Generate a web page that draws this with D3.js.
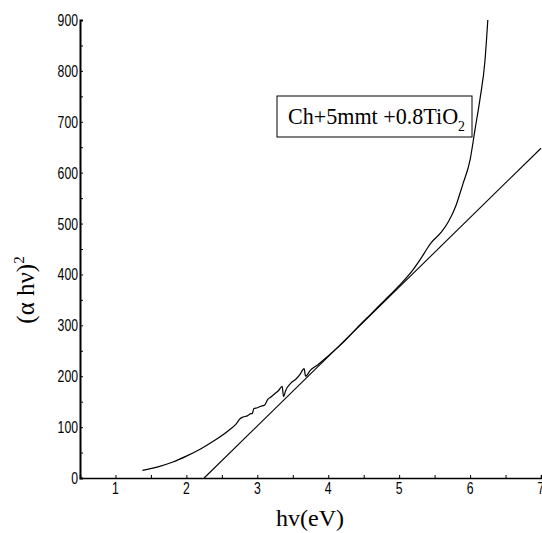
<!DOCTYPE html>
<html>
<head>
<meta charset="utf-8">
<script src="https://cdn.jsdelivr.net/npm/d3@7"></script>
<style>
  body { margin: 0; background: #fff; }
  svg { display: block; }
</style>
</head>
<body>
<div id="chart"></div>
<script>
// photon energy (eV) and (alpha h nu)^2
const energy = [1.38, 1.6, 1.8, 2.0, 2.2, 2.4, 2.6, 2.7, 2.76, 2.8, 2.86, 2.9, 2.93, 2.95, 3.0, 3.05, 3.1, 3.15, 3.2, 3.25, 3.3, 3.35, 3.37, 3.4, 3.47, 3.55, 3.6, 3.66, 3.68, 3.75, 3.85, 4.0, 4.2, 4.4, 4.6, 4.8, 5.0, 5.2, 5.3, 5.4, 5.45, 5.6, 5.7, 5.8, 5.85, 5.9, 6.0, 6.07, 6.14, 6.21, 6.25];
const absorb = [15, 22, 31, 43, 57, 74, 94, 106, 117, 120, 122, 126, 127, 136, 138, 141, 143, 155, 160, 166, 172, 180, 160, 172, 186, 195, 203, 215, 200, 212, 222, 240, 265, 294, 322, 350, 378, 410, 430, 452, 462, 484, 505, 535, 556, 578, 625, 685, 745, 820, 900];

// linear fit used for the band gap
const fitX = [2.25, 7.0];
const fitY = [0, 648];

const xTicks = [1, 2, 3, 4, 5, 6, 7];
const yTicks = [0, 100, 200, 300, 400, 500, 600, 700, 800, 900];
const legendText = ['Ch+5mmt +0.8TiO', '2'];

const width = 542;
const height = 533;

const svg = d3.select('#chart').append('svg')
    .attr('width', width)
    .attr('height', height);

const x = d3.scaleLinear().domain([0.5, 7]).range([80, 541]);
const y = d3.scaleLinear().domain([0, 900]).range([478, 20]);

const tickFont = '"Liberation Sans", Arial, sans-serif';
const serif = '"Liberation Serif", "Times New Roman", serif';

// x axis, small ticks every 0.5 pointing up
const xAxis = svg.append('g')
    .attr('transform', 'translate(0,' + y(0) + ')')
    .call(d3.axisBottom(x).tickValues(d3.range(0.5, 7.01, 0.5)).tickSize(-3).tickFormat(''));
xAxis.select('.domain').attr('stroke-width', 1.5);

// y axis, ticks every 50 pointing right
const yAxis = svg.append('g')
    .attr('transform', 'translate(' + x(0.5) + ',0)')
    .call(d3.axisLeft(y).tickValues(d3.range(0, 901, 50)).tickSize(-3).tickFormat(''));
yAxis.select('.domain').attr('stroke-width', 2);

// tick labels (narrow digits like the original)
svg.append('g').selectAll('text')
    .data(xTicks)
    .join('text')
    .attr('x', d => x(d))
    .attr('y', 494)
    .attr('text-anchor', 'middle')
    .attr('font-family', tickFont)
    .attr('font-size', '16px')
    .attr('textLength', d => String(d).length * 6.8)
    .attr('lengthAdjust', 'spacingAndGlyphs')
    .text(d => d);

svg.append('g').selectAll('text')
    .data(yTicks)
    .join('text')
    .attr('x', 78)
    .attr('y', d => y(d) + 6)
    .attr('text-anchor', 'end')
    .attr('font-family', tickFont)
    .attr('font-size', '16px')
    .attr('textLength', d => String(d).length * 6.8)
    .attr('lengthAdjust', 'spacingAndGlyphs')
    .text(d => d);

// measured curve
const pts = energy.map((e, i) => ({ e: e, a: absorb[i] }));
svg.append('path')
    .datum(pts)
    .attr('fill', 'none')
    .attr('stroke', '#000')
    .attr('stroke-width', 1.2)
    .attr('d', d3.line().curve(d3.curveMonotoneX).x(d => x(d.e)).y(d => y(d.a)));

// fitted line
svg.append('path')
    .datum(fitX.map((v, i) => [v, fitY[i]]))
    .attr('fill', 'none')
    .attr('stroke', '#000')
    .attr('stroke-width', 1.1)
    .attr('d', d3.line().x(d => x(d[0])).y(d => y(d[1])));

// legend box
svg.append('rect')
    .attr('x', 277).attr('y', 96)
    .attr('width', 195).attr('height', 41)
    .attr('fill', '#fff')
    .attr('stroke', '#000')
    .attr('stroke-width', 1);

const leg = svg.append('text')
    .attr('x', 288).attr('y', 124)
    .attr('font-family', serif)
    .attr('font-size', '24px')
    .attr('textLength', 177)
    .attr('lengthAdjust', 'spacingAndGlyphs');
leg.append('tspan').text(legendText[0]);
leg.append('tspan').attr('font-size', '15px').attr('dy', 7).text(legendText[1]);

// axis titles
svg.append('text')
    .attr('x', 310).attr('y', 526)
    .attr('text-anchor', 'middle')
    .attr('font-family', serif)
    .attr('font-size', '24px')
    .text('hv(eV)');

const yl = svg.append('text')
    .attr('transform', 'translate(34,290) rotate(-90)')
    .attr('text-anchor', 'middle')
    .attr('font-family', serif)
    .attr('font-size', '25px');
yl.append('tspan').text('(α hν)');
yl.append('tspan').attr('font-size', '15px').attr('dy', -10).text('2');
</script>
</body>
</html>
